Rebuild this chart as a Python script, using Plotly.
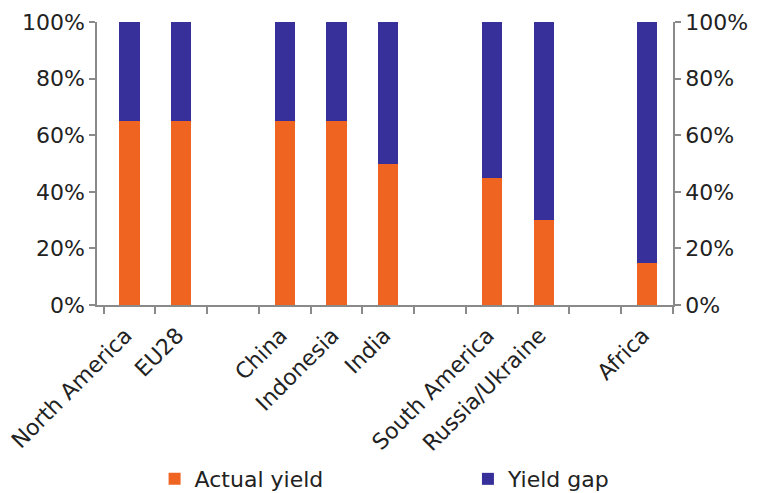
import plotly.graph_objects as go

categories = ["North America", "EU28", " ", "China", "Indonesia", "India", "  ",
              "South America", "Russia/Ukraine", "   ", "Africa"]
actual_yield = [0.65, 0.65, None, 0.65, 0.65, 0.50, None, 0.45, 0.30, None, 0.15]
yield_gap = [0.35, 0.35, None, 0.35, 0.35, 0.50, None, 0.55, 0.70, None, 0.85]
y_ticks = [0, 0.2, 0.4, 0.6, 0.8, 1.0]
y_ticktext = ["0%", "20%", "40%", "60%", "80%", "100%"]

ORANGE = "#EE6420"
BLUE = "#38309A"
AXIS = "#8a8a8a"
FONT = "DejaVu Sans"
TXT = "#222222"
FS = 22

fig = go.Figure()
fig.add_trace(go.Bar(x=categories, y=actual_yield, name="Actual yield",
                     marker=dict(color=ORANGE, line=dict(width=0)), legend="legend"))
fig.add_trace(go.Bar(x=categories, y=yield_gap, name="Yield gap",
                     marker=dict(color=BLUE, line=dict(width=0)), legend="legend2"))
# invisible trace so the right-hand axis is drawn
fig.add_trace(go.Scatter(x=[categories[0]], y=[0], yaxis="y2", mode="markers",
                         marker=dict(opacity=0), showlegend=False, hoverinfo="skip"))

leg_common = dict(orientation="h", xanchor="left", y=-0.615, yanchor="middle",
                  font=dict(family=FONT, size=FS, color=TXT), itemclick=False,
                  bgcolor="rgba(0,0,0,0)")

fig.update_layout(
    width=759, height=485,
    barmode="stack", bargap=0.61,
    paper_bgcolor="white", plot_bgcolor="white",
    margin=dict(l=89, r=94, t=14, b=188, autoexpand=False),
    font=dict(family=FONT, size=FS, color=TXT),
    showlegend=True,
    legend=dict(x=0.100, **leg_common),
    legend2=dict(x=0.644, **leg_common),
    xaxis=dict(type="category", categoryorder="array", categoryarray=categories,
               tickson="boundaries", ticks="outside", ticklen=7, tickcolor=AXIS, tickwidth=1.5,
               showline=True, linecolor=AXIS, linewidth=1.5, showgrid=False,
               tickangle=-45, tickfont=dict(family=FONT, size=FS, color=TXT),
               ticklabelstandoff=7, ticklabelshift=-4,
               zeroline=False, automargin=False),
    yaxis=dict(range=[0, 1], tickvals=y_ticks, ticktext=y_ticktext,
               ticks="outside", ticklen=6, tickcolor=AXIS, tickwidth=1.5,
               showline=True, linecolor=AXIS, linewidth=1.5, showgrid=False,
               zeroline=False, automargin=False,
               tickfont=dict(family=FONT, size=FS, color=TXT)),
    yaxis2=dict(range=[0, 1], tickvals=y_ticks, ticktext=y_ticktext, overlaying="y",
                side="right", ticks="outside", ticklen=6, tickcolor=AXIS, tickwidth=1.5,
                showline=True, linecolor=AXIS, linewidth=1.5, showgrid=False,
                zeroline=False, automargin=False,
                tickfont=dict(family=FONT, size=FS, color=TXT)),
)

fig.write_html("out.html")
